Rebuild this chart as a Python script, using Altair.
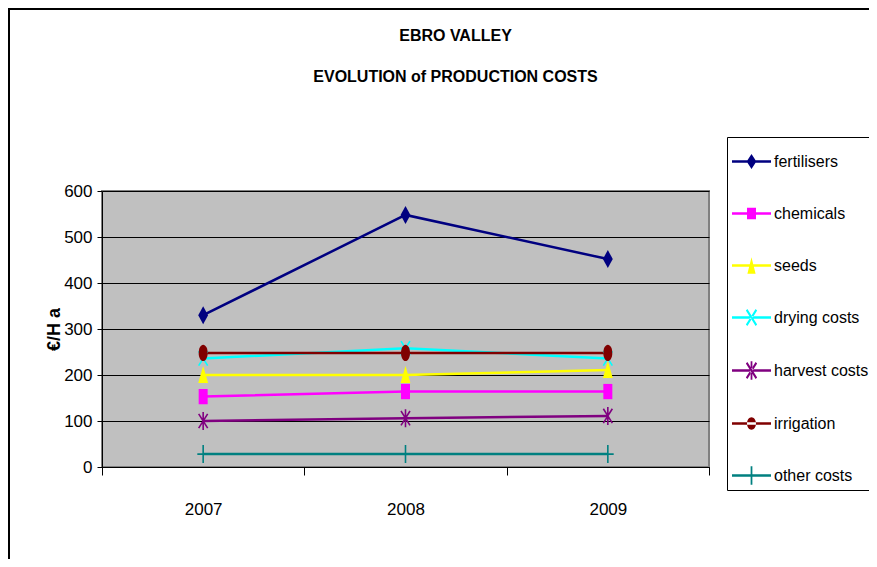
import altair as alt
import pandas as pd

# ---- data ----
years = ["2007", "2008", "2009"]
series = ["fertilisers", "chemicals", "seeds", "drying costs",
          "harvest costs", "irrigation", "other costs"]
fertilisers = [330, 548, 452]
chemicals = [153, 164, 164]
seeds = [200, 200, 211]
drying_costs = [236, 258, 236]
harvest_costs = [100, 106, 111]
irrigation = [248, 248, 248]
other_costs = [28, 28, 28]
colors = ["#000080", "#FF00FF", "#FFFF00", "#00FFFF", "#800080", "#800000", "#008080"]
y_ticks = [0, 100, 200, 300, 400, 500, 600]

values = [fertilisers, chemicals, seeds, drying_costs, harvest_costs, irrigation, other_costs]
rows = []
for i, (s, vals) in enumerate(zip(series, values)):
    for y, v in zip(years, vals):
        rows.append({"series": s, "year": y, "value": v, "order": i})
df = pd.DataFrame(rows)

FONT = "Liberation Sans, Arial, sans-serif"

# marker shapes in the plot (unit box -1..1)
plot_paths = [
    "M0,-1L0.55,0L0,1L-0.55,0Z",                       # diamond
    "M-0.5,-0.85H0.5V0.85H-0.5Z",                       # square
    "M0,-1L0.55,0.9L-0.55,0.9Z",                        # triangle
    "M-0.5,-0.8L0.5,0.8M0.5,-0.8L-0.5,0.8",             # x
    "M-0.5,-0.8L0.5,0.8M0.5,-0.8L-0.5,0.8M0,-1L0,1",    # star
    "M-0.5,0A0.5,0.9 0 1,0 0.5,0A0.5,0.9 0 1,0 -0.5,0Z",  # circle
    "M0,-1L0,1M-0.65,0L0.65,0",                         # plus
]

# legend shapes: a line segment plus the marker, as filled polygons
L = "M-1,-0.07H1V0.07H-1Z"
def diag(a, b, t=0.04):
    return (f"M{-a+t},{-b-t}L{a+t},{b-t}L{a-t},{b+t}L{-a-t},{-b+t}Z"
            f"M{a-t},{-b-t}L{-a-t},{b-t}L{-a+t},{b+t}L{a+t},{-b+t}Z")
legend_paths = [
    L + "M0,-0.38L0.25,0L0,0.38L-0.25,0Z",
    L + "M-0.23,-0.3H0.23V0.3H-0.23Z",
    L + "M0,-0.42L0.21,0.42L-0.21,0.42Z",
    L + diag(0.25, 0.4),
    L + diag(0.25, 0.4) + "M-0.045,-0.48H0.045V0.48H-0.045Z",
    L + "M-0.23,0A0.23,0.32 0 1,0 0.23,0A0.23,0.32 0 1,0 -0.23,0Z",
    L + "M-0.045,-0.48H0.045V0.48H-0.045Z",
]

filled_series = ["fertilisers", "chemicals", "seeds", "irrigation"]
stroke_series = ["drying costs", "harvest costs", "other costs"]

x_enc = alt.X("year:O",
              scale=alt.Scale(type="band", paddingInner=0, paddingOuter=0),
              axis=alt.Axis(title=None, labelAngle=0, tickBand="extent", tickSize=8,
                            tickColor="black", domainColor="black", labelPadding=26,
                            labelFont=FONT, labelFontSize=17, labelColor="black",
                            grid=False))
y_enc = alt.Y("value:Q",
              scale=alt.Scale(domain=[0, 600], nice=False),
              axis=alt.Axis(values=y_ticks, title="€/H a", titleFont=FONT,
                            titleFontSize=18, titleFontWeight="bold", titleColor="black",
                            titlePadding=0,
                            labelFont=FONT, labelFontSize=17, labelColor="black",
                            labelPadding=5, tickSize=5, tickColor="black",
                            domainColor="black", grid=True, gridColor="black",
                            gridWidth=1))

def color_enc(legend=None):
    return alt.Color("series:N", scale=alt.Scale(domain=series, range=colors),
                     legend=legend)

base = alt.Chart(df)

# outer chart frame (decoration only)
frame = alt.Chart(pd.DataFrame({"frame": [0]})).mark_rect(
    fillOpacity=0, stroke="black", strokeWidth=2
).encode(x=alt.value(-93), x2=alt.value(790), y=alt.value(-182), y2=alt.value(390))

lines = base.mark_line(strokeWidth=2.5).encode(
    x=x_enc, y=y_enc, color=color_enc(), order="order:Q")

pts_filled = base.transform_filter(
    alt.FieldOneOfPredicate(field="series", oneOf=filled_series)
).mark_point(filled=True, size=324, opacity=1, strokeWidth=0).encode(
    x=x_enc, y=y_enc, color=color_enc(),
    shape=alt.Shape("series:N", scale=alt.Scale(domain=series, range=plot_paths),
                    legend=None))

pts_stroke = base.transform_filter(
    alt.FieldOneOfPredicate(field="series", oneOf=stroke_series)
).mark_point(filled=False, size=324, opacity=1, strokeWidth=1.6).encode(
    x=x_enc, y=y_enc, color=color_enc(),
    shape=alt.Shape("series:N", scale=alt.Scale(domain=series, range=plot_paths),
                    legend=None))

leg = alt.Legend(title=None, orient="none", legendX=625, legendY=-54,
                 strokeColor="black", fillColor="white", padding=5,
                 rowPadding=24, labelFont=FONT, labelFontSize=16,
                 labelColor="black", labelOffset=3, symbolStrokeWidth=0,
                 symbolSize=1521)

legend_layer = base.transform_filter("false").mark_point(
    filled=True, size=1521, opacity=1, strokeWidth=0).encode(
    x=x_enc, y=y_enc,
    color=alt.Color("series:N", scale=alt.Scale(domain=series, range=colors), legend=leg),
    shape=alt.Shape("series:N", scale=alt.Scale(domain=series, range=legend_paths),
                    legend=leg))

chart = alt.layer(frame, lines, pts_stroke, pts_filled, legend_layer).resolve_scale(
    color="independent", shape="independent"
).properties(
    width=607, height=276,
    padding={"left": 94, "top": 183, "right": 160, "bottom": 92},
    autosize=alt.AutoSizeParams(type="none"),
    title=alt.Title(["EBRO VALLEY", "EVOLUTION of PRODUCTION COSTS"],
                    font=FONT, fontSize=16, fontWeight="bold", color="black",
                    anchor="middle", frame="group", lineHeight=41, dx=50, offset=-77),
    background="white",
).configure_view(
    fill="#C0C0C0", stroke="#808080", strokeWidth=2
)

chart.save("out.html", embed_options={"renderer": "svg", "actions": False})
